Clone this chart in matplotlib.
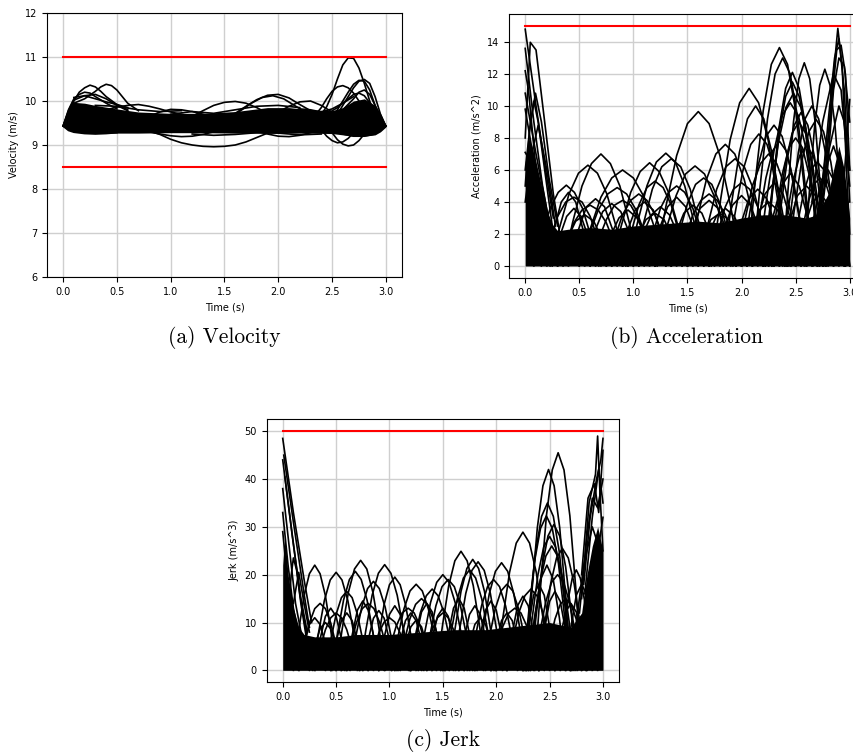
import numpy as np
import matplotlib
matplotlib.use("Agg")
import matplotlib.pyplot as plt

# ---- velocity (a) ----
vel_limits = [11.0, 8.5]
vel_band_t = [0, 0.05, 0.1, 0.2, 0.3, 0.5, 0.7, 1.0, 1.3, 1.6, 1.9, 2.1, 2.3, 2.5, 2.6, 2.7, 2.8, 2.9, 2.95, 3.0]
vel_band_hi = [9.45, 9.8, 9.97, 9.95, 9.9, 9.82, 9.75, 9.72, 9.72, 9.76, 9.85, 9.85, 9.8, 9.78, 9.85, 10.0, 10.05, 9.9, 9.72, 9.45]
vel_band_lo = [9.41, 9.34, 9.3, 9.27, 9.26, 9.27, 9.27, 9.28, 9.28, 9.27, 9.27, 9.27, 9.27, 9.26, 9.23, 9.2, 9.2, 9.23, 9.3, 9.41]
vel_curves = [
    ([2.4, 2.45, 2.5, 2.55, 2.6, 2.65, 2.7, 2.75, 2.8, 2.85, 2.9, 2.95, 3.0],
     [9.7, 9.87, 10.15, 10.5, 10.82, 10.98, 10.97, 10.75, 10.4, 10.0, 9.65, 9.45, 9.43]),
    ([2.5, 2.55, 2.6, 2.65, 2.7, 2.75, 2.8, 2.85, 2.9, 2.95, 3.0],
     [9.65, 9.8, 10.0, 10.2, 10.38, 10.47, 10.45, 10.25, 9.9, 9.6, 9.43]),
    ([2.55, 2.6, 2.65, 2.7, 2.75, 2.8, 2.85, 2.9, 2.95, 3.0],
     [9.7, 9.9, 10.1, 10.3, 10.45, 10.49, 10.4, 10.1, 9.7, 9.43]),
    ([2.35, 2.4, 2.45, 2.5, 2.55, 2.6, 2.65, 2.7, 2.75, 2.8, 2.85],
     [9.7, 9.85, 10.05, 10.22, 10.32, 10.35, 10.3, 10.18, 10.0, 9.8, 9.65]),
    ([2.4, 2.45, 2.5, 2.55, 2.6, 2.65, 2.7, 2.75, 2.8, 2.85, 2.9],
     [9.6, 9.45, 9.28, 9.12, 9.02, 8.98, 9.0, 9.1, 9.25, 9.4, 9.5]),
    ([2.35, 2.4, 2.45, 2.5, 2.55, 2.6, 2.65, 2.7, 2.75],
     [9.5, 9.35, 9.2, 9.1, 9.05, 9.07, 9.15, 9.28, 9.4]),
    ([0.8, 0.9, 1.0, 1.1, 1.2, 1.3, 1.4, 1.5, 1.6, 1.7, 1.8, 1.9, 2.0],
     [9.32, 9.24, 9.13, 9.05, 9.0, 8.97, 8.96, 8.97, 9.0, 9.07, 9.17, 9.27, 9.33]),
    ([1.5, 1.6, 1.7, 1.8, 1.9, 2.0, 2.1, 2.2, 2.3, 2.4],
     [9.6, 9.72, 9.88, 10.03, 10.13, 10.15, 10.07, 9.92, 9.78, 9.7]),
    ([1.55, 1.65, 1.75, 1.85, 1.95, 2.05, 2.15, 2.25],
     [9.62, 9.78, 9.95, 10.08, 10.12, 10.05, 9.9, 9.75]),
    ([1.1, 1.2, 1.3, 1.4, 1.5, 1.6, 1.7, 1.8, 1.9],
     [9.55, 9.65, 9.78, 9.9, 9.97, 9.99, 9.95, 9.85, 9.72]),
    ([2.0, 2.1, 2.2, 2.3, 2.4, 2.5],
     [9.75, 9.88, 9.98, 10.0, 9.9, 9.75]),
    ([0, 0.05, 0.1, 0.15, 0.2, 0.25, 0.3, 0.35, 0.4, 0.5, 0.6],
     [9.43, 9.75, 10.0, 10.2, 10.3, 10.36, 10.32, 10.22, 10.1, 9.92, 9.8]),
    ([0, 0.05, 0.1, 0.2, 0.3, 0.35, 0.4, 0.45, 0.5, 0.55, 0.6, 0.7],
     [9.43, 9.72, 9.95, 10.05, 10.22, 10.32, 10.38, 10.35, 10.25, 10.1, 9.95, 9.78]),
    ([0, 0.05, 0.1, 0.15, 0.2, 0.25, 0.3, 0.4, 0.5],
     [9.43, 9.8, 10.05, 10.15, 10.2, 10.18, 10.1, 9.95, 9.82]),
    ([0, 0.05, 0.1, 0.2, 0.3, 0.4, 0.5, 0.6],
     [9.43, 9.78, 10.02, 10.12, 10.15, 10.05, 9.9, 9.78]),
    ([0.4, 0.5, 0.6, 0.7, 0.8, 0.9, 1.0, 1.1, 1.2],
     [9.8, 9.86, 9.9, 9.92, 9.88, 9.82, 9.75, 9.7, 9.65]),
    ([0.7, 0.8, 0.9, 1.0, 1.1, 1.2, 1.3, 1.4],
     [9.55, 9.65, 9.75, 9.81, 9.8, 9.76, 9.7, 9.62]),
    ([0.7, 0.8, 0.9, 1.0, 1.1, 1.2, 1.3, 1.4, 1.5],
     [9.35, 9.3, 9.25, 9.21, 9.19, 9.2, 9.24, 9.3, 9.35]),
    ([1.8, 1.9, 2.0, 2.1, 2.2, 2.3, 2.4],
     [9.32, 9.25, 9.2, 9.19, 9.22, 9.28, 9.35]),
    ([0, 0.05, 0.1, 0.2, 0.3, 0.4, 0.5],
     [9.43, 9.33, 9.29, 9.26, 9.25, 9.26, 9.28]),
    ([2.6, 2.7, 2.8, 2.9, 2.95, 3.0],
     [9.25, 9.2, 9.2, 9.25, 9.33, 9.43]),
    ([2.6, 2.7, 2.75, 2.8, 2.85, 2.9, 2.95, 3.0],
     [9.8, 10.05, 10.2, 10.25, 10.15, 9.9, 9.65, 9.43]),
    ([2.45, 2.55, 2.65, 2.7, 2.75, 2.8, 2.9, 3.0],
     [9.7, 9.85, 10.05, 10.15, 10.18, 10.12, 9.8, 9.43]),
    ([1.0, 1.2, 1.4, 1.6, 1.8, 2.0, 2.2],
     [9.7, 9.76, 9.72, 9.8, 9.88, 9.9, 9.85]),
    ([0.3, 0.5, 0.7, 0.9, 1.1],
     [9.9, 9.88, 9.8, 9.76, 9.78]),
    ([2.2, 2.3, 2.4, 2.5, 2.6, 2.7],
     [9.82, 9.8, 9.75, 9.82, 9.95, 10.1]),
    ([1.2, 1.4, 1.6, 1.8, 2.0, 2.2, 2.4],
     [9.25, 9.22, 9.24, 9.28, 9.27, 9.23, 9.25]),
    ([0.1, 0.2, 0.3, 0.4, 0.5, 0.6],
     [10.08, 10.12, 10.05, 9.98, 9.92, 9.85]),
]

# ---- acceleration (b) ----
acc_limit = 15.0
acc_band_t = [0, 0.03, 0.06, 0.1, 0.15, 0.2, 0.25, 0.3, 0.4, 0.6, 0.8, 1.0, 1.2, 1.4, 1.6, 1.8,
              2.0, 2.2, 2.4, 2.6, 2.7, 2.8, 2.85, 2.9, 2.95, 3.0]
acc_band_hi = [6.5, 8, 7.5, 6.5, 5, 3.5, 2.6, 2.2, 2.3, 2.4, 2.3, 2.5, 2.6, 2.7, 2.8, 2.7,
               3.0, 3.2, 3.2, 3.0, 3.2, 4.5, 6, 7.5, 6, 3]
acc_arcs = [
    (0.35, 1.05, [0, 2.7, 5.0, 6.4, 7.0, 6.4, 5.0, 2.7, 0]),
    (0.23, 0.93, [0, 2.4, 4.5, 5.8, 6.3, 5.8, 4.5, 2.4, 0]),
    (0.08, 0.68, [0, 1.9, 3.6, 4.6, 5.05, 4.6, 3.6, 1.9, 0]),
    (0.5, 1.3, [0, 2.3, 4.3, 5.5, 6.0, 5.5, 4.3, 2.3, 0]),
    (0.5, 1.2, [0, 1.9, 3.5, 4.5, 4.9, 4.5, 3.5, 1.9, 0]),
    (0.8, 1.5, [0, 2.5, 4.6, 5.9, 6.45, 5.9, 4.6, 2.5, 0]),
    (0.95, 1.65, [0, 2.7, 5.0, 6.5, 7.05, 6.5, 5.0, 2.7, 0]),
    (1.0, 1.7, [0, 2.5, 4.8, 6.2, 6.7, 6.2, 4.8, 2.5, 0]),
    (1.22, 1.92, [0, 2.4, 4.4, 5.75, 6.25, 5.75, 4.4, 2.4, 0]),
    (1.2, 2.0, [0, 3.7, 6.9, 8.9, 9.65, 8.9, 6.9, 3.7, 0]),
    (1.5, 2.2, [0, 2.9, 5.4, 7.0, 7.6, 7.0, 5.4, 2.9, 0]),
    (1.6, 2.28, [0, 2.5, 4.8, 6.2, 6.7, 6.2, 4.8, 2.5, 0]),
    (1.72, 2.42, [0, 4.2, 7.9, 10.2, 11.1, 10.2, 7.9, 4.2, 0]),
    (1.83, 2.43, [0, 3.8, 7.1, 9.2, 10.0, 9.2, 7.1, 3.8, 0]),
    (1.86, 2.46, [0, 3.1, 5.9, 7.6, 8.25, 7.6, 5.9, 3.1, 0]),
    (2.05, 2.65, [0, 5.2, 9.7, 12.6, 13.65, 12.6, 9.7, 5.2, 0]),
    (2.1, 2.66, [0, 4.9, 9.2, 12.0, 13.0, 12.0, 9.2, 4.9, 0]),
    (2.22, 2.72, [0, 4.6, 8.6, 11.1, 12.1, 11.1, 8.6, 4.6, 0]),
    (2.38, 2.78, [0, 4.8, 9.0, 11.7, 12.7, 11.7, 9.0, 4.8, 0]),
    (2.0, 2.6, [0, 3.3, 6.2, 8.1, 8.8, 8.1, 6.2, 3.3, 0]),
    (2.42, 2.96, [0, 3.5, 6.5, 8.4, 9.15, 8.4, 6.5, 3.5, 0]),
    (2.58, 2.96, [0, 4.7, 8.7, 11.3, 12.3, 11.3, 8.7, 4.7, 0]),
    (2.2, 2.76, [0, 4.1, 7.7, 9.9, 10.8, 9.9, 7.7, 4.1, 0]),
    (2.15, 2.75, [0, 3.9, 7.2, 9.4, 10.2, 9.4, 7.2, 3.9, 0]),
    (2.3, 2.8, [0, 3.6, 6.8, 8.8, 9.6, 8.8, 6.8, 3.6, 0]),
    (2.25, 2.75, [0, 3.0, 5.7, 7.4, 8.0, 7.4, 5.7, 3.0, 0]),
    (1.95, 2.55, [0, 2.7, 5.0, 6.4, 7.0, 6.4, 5.0, 2.7, 0]),
    (2.35, 2.85, [0, 2.9, 5.3, 6.9, 7.5, 6.9, 5.3, 2.9, 0]),
    (0.15, 0.75, [0, 1.6, 3.1, 4.0, 4.3, 4.0, 3.1, 1.6, 0]),
    (0.6, 1.2, [0, 1.6, 2.9, 3.8, 4.1, 3.8, 2.9, 1.6, 0]),
    (1.1, 1.7, [0, 1.9, 3.6, 4.6, 5.0, 4.6, 3.6, 1.9, 0]),
    (1.35, 1.95, [0, 2.1, 3.9, 5.1, 5.5, 5.1, 3.9, 2.1, 0]),
    (1.4, 2.0, [0, 1.7, 3.2, 4.1, 4.5, 4.1, 3.2, 1.7, 0]),
    (0.9, 1.5, [0, 2.0, 3.8, 4.9, 5.3, 4.9, 3.8, 2.0, 0]),
    (0.3, 0.9, [0, 1.4, 2.7, 3.5, 3.8, 3.5, 2.7, 1.4, 0]),
    (2.45, 2.95, [0, 2.5, 4.6, 6.0, 6.5, 6.0, 4.6, 2.5, 0]),
    (1.7, 2.3, [0, 2.0, 3.7, 4.8, 5.2, 4.8, 3.7, 2.0, 0]),
    (0.75, 1.35, [0, 1.7, 3.2, 4.1, 4.5, 4.1, 3.2, 1.7, 0]),
    (2.5, 2.95, [0, 2.1, 3.9, 5.1, 5.5, 5.1, 3.9, 2.1, 0]),
    (2.22, 2.72, [0, 4.4, 8.2, 10.6, 11.5, 10.6, 8.2, 4.4, 0]),
    (2.28, 2.78, [0, 3.4, 6.4, 8.3, 9.0, 8.3, 6.4, 3.4, 0]),
    (2.4, 2.9, [0, 3.8, 7.1, 9.2, 10.0, 9.2, 7.1, 3.8, 0]),
    (2.1, 2.6, [0, 3.0, 5.5, 7.2, 7.8, 7.2, 5.5, 3.0, 0]),
    # lower arcs that make the texture above the dense band
    (0.25, 0.65, [0, 1.8, 3.1, 3.6, 3.1, 1.8, 0]),
    (0.4, 0.9, [0, 2.1, 3.7, 4.2, 3.7, 2.1, 0]),
    (0.55, 1.05, [0, 2.0, 3.4, 3.9, 3.4, 2.0, 0]),
    (0.7, 1.2, [0, 1.8, 3.0, 3.5, 3.0, 1.8, 0]),
    (0.85, 1.35, [0, 2.0, 3.5, 4.0, 3.5, 2.0, 0]),
    (1.0, 1.5, [0, 1.9, 3.2, 3.7, 3.2, 1.9, 0]),
    (1.15, 1.65, [0, 2.2, 3.7, 4.3, 3.7, 2.2, 0]),
    (1.3, 1.8, [0, 1.9, 3.3, 3.8, 3.3, 1.9, 0]),
    (1.45, 1.95, [0, 2.1, 3.6, 4.1, 3.6, 2.1, 0]),
    (1.6, 2.1, [0, 1.8, 3.1, 3.6, 3.1, 1.8, 0]),
    (1.75, 2.25, [0, 2.2, 3.8, 4.4, 3.8, 2.2, 0]),
    (1.9, 2.4, [0, 2.4, 4.2, 4.8, 4.2, 2.4, 0]),
    (2.05, 2.55, [0, 2.6, 4.5, 5.2, 4.5, 2.6, 0]),
    (2.2, 2.7, [0, 2.9, 5.0, 5.8, 5.0, 2.9, 0]),
    (2.35, 2.85, [0, 2.5, 4.4, 5.0, 4.4, 2.5, 0]),
    (2.5, 2.95, [0, 2.3, 3.9, 4.5, 3.9, 2.3, 0]),
    (0.3, 0.8, [0, 1.6, 2.8, 3.2, 2.8, 1.6, 0]),
    (0.95, 1.45, [0, 1.7, 2.9, 3.3, 2.9, 1.7, 0]),
    (1.55, 2.05, [0, 1.7, 2.9, 3.3, 2.9, 1.7, 0]),
    (2.0, 2.5, [0, 2.0, 3.5, 4.0, 3.5, 2.0, 0]),
    (2.6, 3.0, [0, 3.0, 5.2, 6.0, 5.2, 3.0, 0]),
    (2.7, 3.0, [0, 3.8, 6.5, 7.5, 6.5, 3.8, 0]),
    (0.2, 0.6, [0, 2.3, 4.0, 4.6, 4.0, 2.3, 0]),
]
acc_spikes = [
    ([0, 0.1, 0.2, 0.26], [14.8, 10, 5.5, 3]),
    ([0, 0.047, 0.1, 0.18, 0.26, 0.32], [8, 13.98, 13.5, 9, 4.5, 2]),
    ([0, 0.05, 0.095, 0.15, 0.22, 0.3], [6, 9, 10.8, 9, 5.5, 2.5]),
    ([0, 0.1, 0.2, 0.25], [10.8, 7, 3.5, 2]),
    ([0, 0.08, 0.16, 0.24], [13.6, 9, 5, 2]),
    ([0, 0.07, 0.14, 0.22], [9.8, 7, 4.5, 2]),
    ([0, 0.04, 0.08, 0.12, 0.18, 0.25], [5, 8.5, 10.3, 9, 6, 2.5]),
    ([0, 0.05, 0.12, 0.2], [7.1, 6.5, 4.5, 2]),
    ([0, 0.06, 0.12, 0.2, 0.28], [4, 7, 8.8, 6, 2.5]),
    ([0, 0.03, 0.1, 0.2], [12.2, 11, 6, 2.5]),
    ([2.7, 2.8, 2.85, 2.89, 2.93, 2.97, 3.0], [3, 8, 12, 14.85, 12.5, 6, 2]),
    ([2.72, 2.8, 2.86, 2.9, 2.95, 3.0], [3, 9, 13, 14.2, 11, 4]),
    ([2.75, 2.83, 2.88, 2.92, 2.96, 3.0], [4, 10, 13.5, 13.8, 12, 6]),
    ([2.78, 2.85, 2.9, 2.95, 3.0], [5, 11, 13, 12.5, 9]),
    ([2.9, 2.95, 3.0], [3, 5.7, 10.4]),
    ([2.65, 2.75, 2.85, 2.92, 3.0], [4, 9, 12, 11, 5]),
    ([2.7, 2.8, 2.9, 2.95, 3.0], [3, 7, 10, 9, 6]),
]

# ---- jerk (c) ----
jerk_limit = 50.0
jerk_band_t = [0, 0.02, 0.05, 0.1, 0.15, 0.2, 0.3, 0.5, 0.7, 1.0, 1.3, 1.6, 1.9, 2.1, 2.3, 2.5,
               2.7, 2.8, 2.85, 2.9, 2.95, 3.0]
jerk_band_hi = [22, 28, 20, 13, 9, 7.5, 7, 7, 7.5, 7.5, 8, 8.5, 8.5, 9, 9.5, 10, 9, 12, 20, 26, 30, 25]
jerk_arcs = [
    (0.1, 0.5, [0, 8.4, 15.6, 20.2, 22.0, 20.2, 15.6, 8.4, 0]),
    (0.28, 0.72, [0, 7.8, 14.6, 18.9, 20.5, 18.9, 14.6, 7.8, 0]),
    (0.5, 0.96, [0, 8.7, 16.3, 21.2, 23.0, 21.2, 16.3, 8.7, 0]),
    (0.46, 0.9, [0, 7.9, 14.7, 19.0, 20.7, 19.0, 14.7, 7.9, 0]),
    (0.72, 1.19, [0, 8.4, 15.7, 20.3, 22.1, 20.3, 15.7, 8.4, 0]),
    (0.85, 1.25, [0, 7.4, 13.8, 17.9, 19.5, 17.9, 13.8, 7.4, 0]),
    (1.02, 1.48, [0, 6.8, 12.8, 16.6, 18.0, 16.6, 12.8, 6.8, 0]),
    (1.27, 1.73, [0, 7.6, 14.2, 18.4, 20.0, 18.4, 14.2, 7.6, 0]),
    (1.44, 1.9, [0, 9.5, 17.7, 22.9, 24.9, 22.9, 17.7, 9.5, 0]),
    (1.56, 2.0, [0, 8.8, 16.5, 21.3, 23.2, 21.3, 16.5, 8.8, 0]),
    (1.6, 2.06, [0, 8.6, 16.1, 20.9, 22.7, 20.9, 16.1, 8.6, 0]),
    (1.82, 2.28, [0, 8.6, 16.0, 20.7, 22.5, 20.7, 16.0, 8.6, 0]),
    (2.0, 2.5, [0, 11.0, 20.5, 26.6, 28.9, 26.6, 20.5, 11.0, 0]),
    (2.28, 2.7, [0, 16.0, 29.8, 38.6, 42.0, 38.6, 29.8, 16.0, 0]),
    (2.36, 2.8, [0, 17.3, 32.3, 41.9, 45.5, 41.9, 32.3, 17.3, 0]),
    (2.26, 2.7, [0, 13.3, 24.9, 32.2, 35.0, 32.2, 24.9, 13.3, 0]),
    (2.25, 2.69, [0, 12.3, 22.9, 29.7, 32.3, 29.7, 22.9, 12.3, 0]),
    (2.32, 2.76, [0, 11.6, 21.7, 28.1, 30.5, 28.1, 21.7, 11.6, 0]),
    (2.28, 2.72, [0, 10.6, 19.9, 25.8, 28.0, 25.8, 19.9, 10.6, 0]),
    (2.3, 2.74, [0, 9.9, 18.5, 23.9, 26.0, 23.9, 18.5, 9.9, 0]),
    (2.4, 2.84, [0, 9.7, 18.1, 23.5, 25.5, 23.5, 18.1, 9.7, 0]),
    (0.63, 1.07, [0, 7.1, 13.2, 17.1, 18.6, 17.1, 13.2, 7.1, 0]),
    (0.4, 0.8, [0, 6.3, 11.7, 15.2, 16.5, 15.2, 11.7, 6.3, 0]),
    (1.18, 1.62, [0, 6.5, 12.1, 15.6, 17.0, 15.6, 12.1, 6.5, 0]),
    (1.32, 1.78, [0, 7.2, 13.5, 17.5, 19.0, 17.5, 13.5, 7.2, 0]),
    (1.52, 1.98, [0, 8.0, 14.9, 19.3, 21.0, 19.3, 14.9, 8.0, 0]),
    (1.88, 2.32, [0, 6.8, 12.8, 16.6, 18.0, 16.6, 12.8, 6.8, 0]),
    (1.08, 1.52, [0, 5.7, 10.7, 13.8, 15.0, 13.8, 10.7, 5.7, 0]),
    (0.15, 0.55, [0, 5.3, 9.9, 12.9, 14.0, 12.9, 9.9, 5.3, 0]),
    (0.58, 1.02, [0, 5.3, 9.9, 12.9, 14.0, 12.9, 9.9, 5.3, 0]),
    (1.75, 2.2, [0, 7.2, 13.5, 17.5, 19.0, 17.5, 13.5, 7.2, 0]),
    (2.35, 2.8, [0, 7.6, 14.2, 18.4, 20.0, 18.4, 14.2, 7.6, 0]),
    (0.95, 1.4, [0, 4.9, 9.2, 12.0, 13.0, 12.0, 9.2, 4.9, 0]),
    (2.1, 2.55, [0, 6.5, 12.1, 15.6, 17.0, 15.6, 12.1, 6.5, 0]),
    (0.3, 0.7, [0, 4.6, 8.5, 11.0, 12.0, 11.0, 8.5, 4.6, 0]),
    (2.45, 2.85, [0, 5.7, 10.7, 13.8, 15.0, 13.8, 10.7, 5.7, 0]),
    (2.6, 2.9, [0, 8.0, 14.9, 19.3, 21.0, 19.3, 14.9, 8.0, 0]),
    (1.3, 1.7, [0, 4.6, 8.5, 11.0, 12.0, 11.0, 8.5, 4.6, 0]),
    (1.95, 2.4, [0, 4.9, 9.2, 12.0, 13.0, 12.0, 9.2, 4.9, 0]),
    (0.8, 1.2, [0, 4.2, 7.8, 10.1, 11.0, 10.1, 7.8, 4.2, 0]),
    # lower arcs that make the texture above the dense band
    (0.15, 0.45, [0, 5.5, 9.6, 11.0, 9.6, 5.5, 0]),
    (0.3, 0.6, [0, 6.5, 11.3, 13.0, 11.3, 6.5, 0]),
    (0.45, 0.75, [0, 6.0, 10.4, 12.0, 10.4, 6.0, 0]),
    (0.6, 0.9, [0, 7.3, 12.6, 14.5, 12.6, 7.3, 0]),
    (0.75, 1.05, [0, 6.3, 10.9, 12.5, 10.9, 6.3, 0]),
    (0.9, 1.2, [0, 6.8, 11.7, 13.5, 11.7, 6.8, 0]),
    (1.05, 1.35, [0, 6.0, 10.4, 12.0, 10.4, 6.0, 0]),
    (1.2, 1.5, [0, 7.0, 12.2, 14.0, 12.2, 7.0, 0]),
    (1.35, 1.65, [0, 6.5, 11.3, 13.0, 11.3, 6.5, 0]),
    (1.5, 1.8, [0, 7.5, 13.0, 15.0, 13.0, 7.5, 0]),
    (1.65, 1.95, [0, 6.8, 11.7, 13.5, 11.7, 6.8, 0]),
    (1.8, 2.1, [0, 7.3, 12.6, 14.5, 12.6, 7.3, 0]),
    (1.95, 2.25, [0, 6.0, 10.4, 12.0, 10.4, 6.0, 0]),
    (2.1, 2.4, [0, 7.8, 13.5, 15.5, 13.5, 7.8, 0]),
    (2.25, 2.55, [0, 9.0, 15.7, 18.0, 15.7, 9.0, 0]),
    (2.4, 2.7, [0, 8.3, 14.4, 16.5, 14.4, 8.3, 0]),
    (2.55, 2.85, [0, 7.0, 12.2, 14.0, 12.2, 7.0, 0]),
    (2.65, 2.95, [0, 9.0, 15.7, 18.0, 15.7, 9.0, 0]),
    (0.25, 0.55, [0, 5.0, 8.7, 10.0, 8.7, 5.0, 0]),
    (1.1, 1.4, [0, 5.3, 9.1, 10.5, 9.1, 5.3, 0]),
    (1.7, 2.0, [0, 5.5, 9.6, 11.0, 9.6, 5.5, 0]),
    (2.3, 2.65, [0, 11.0, 19.1, 22.0, 19.1, 11.0, 0]),
]
jerk_spikes = [
    ([0, 0.1, 0.2, 0.27], [48.5, 33, 19, 10]),
    ([0.01, 0.1, 0.2, 0.25], [45, 31, 16, 9]),
    ([0, 0.08, 0.16, 0.22], [44, 30, 16, 8]),
    ([0.02, 0.09, 0.17, 0.23], [40.5, 28, 15, 8]),
    ([0, 0.06, 0.12, 0.18], [38, 26, 14, 7]),
    ([0, 0.05, 0.1, 0.15], [33, 22, 13, 7]),
    ([0, 0.04, 0.08, 0.13], [29, 20, 12, 6]),
    ([0.05, 0.08, 0.1, 0.13, 0.17, 0.22], [12, 20, 23.5, 21, 14, 7]),
    ([0.1, 0.15, 0.2, 0.25], [14, 20.5, 14, 8]),
    ([2.8, 2.87, 2.93, 2.95, 2.97, 3.0], [15, 35, 41, 49, 38, 25]),
    ([2.82, 2.88, 2.94, 2.98, 3.0], [18, 32, 40, 44, 48.5]),
    ([2.8, 2.86, 2.92, 2.96, 3.0], [20, 36, 39, 33, 46]),
    ([2.78, 2.85, 2.9, 2.95, 3.0], [12, 28, 36, 34, 40]),
    ([2.83, 2.9, 2.96, 3.0], [16, 32, 42, 35]),
    ([2.75, 2.82, 2.9, 2.96, 3.0], [10, 22, 30, 26, 32]),
]

t_end = 3.0
captions = ["(a) Velocity", "(b) Acceleration", "(c) Jerk"]

fig = plt.figure(figsize=(8.54, 7.56), dpi=100)
ax_v = fig.add_axes([0.0550, 0.6336, 0.4157, 0.3492])
ax_a = fig.add_axes([0.5960, 0.6323, 0.4180, 0.3492])
ax_j = fig.add_axes([0.3123, 0.0975, 0.4125, 0.3479])

LW = 1.2


def style(ax, ylabel):
    ax.grid(True, color='#cfcfcf', lw=1.0)
    ax.set_axisbelow(True)
    ax.set_xlim(-0.15, 3.15)
    ax.set_xticks(np.arange(0, 3.01, 0.5))
    ax.xaxis.set_major_formatter(matplotlib.ticker.FormatStrFormatter('%.1f'))
    ax.tick_params(labelsize=7, length=3.5, width=0.8)
    ax.set_xlabel('Time (s)', fontsize=7)
    ax.set_ylabel(ylabel, fontsize=7)


# velocity
ax_v.fill_between(vel_band_t, vel_band_lo, vel_band_hi, color='black', lw=0, zorder=2)
for t, v in vel_curves:
    ax_v.plot(t, v, color='black', lw=LW, zorder=3)
for lim in vel_limits:
    ax_v.plot([0, t_end], [lim, lim], color='red', lw=1.5, zorder=4)
ax_v.set_ylim(6, 12)
style(ax_v, 'Velocity (m/s)')

# acceleration
ax_a.fill_between(acc_band_t, 0, acc_band_hi, color='black', lw=0, zorder=2)
for ts, te, vals in acc_arcs:
    ax_a.plot(np.linspace(ts, te, len(vals)), vals, color='black', lw=LW, zorder=3)
for t, v in acc_spikes:
    ax_a.plot(t, v, color='black', lw=LW, zorder=3)
ax_a.plot([0, t_end], [acc_limit, acc_limit], color='red', lw=1.5, zorder=4)
ax_a.set_ylim(-0.75, 15.75)
ax_a.set_yticks(np.arange(0, 15, 2))
style(ax_a, 'Acceleration (m/s^2)')

# jerk
ax_j.fill_between(jerk_band_t, 0, jerk_band_hi, color='black', lw=0, zorder=2)
for ts, te, vals in jerk_arcs:
    ax_j.plot(np.linspace(ts, te, len(vals)), vals, color='black', lw=LW, zorder=3)
for t, v in jerk_spikes:
    ax_j.plot(t, v, color='black', lw=LW, zorder=3)
ax_j.plot([0, t_end], [jerk_limit, jerk_limit], color='red', lw=1.5, zorder=4)
ax_j.set_ylim(-2.5, 52.5)
ax_j.set_yticks(np.arange(0, 51, 10))
style(ax_j, 'Jerk (m/s^3)')

fig.text(224 / 854, 1 - 337 / 756, captions[0], fontsize=15.5, family='cmr10', ha='center', va='center')
fig.text(687 / 854, 1 - 337 / 756, captions[1], fontsize=15.5, family='cmr10', ha='center', va='center')
fig.text(443 / 854, 1 - 741 / 756, captions[2], fontsize=15.5, family='cmr10', ha='center', va='center')

fig.savefig('out.png', dpi=100)
